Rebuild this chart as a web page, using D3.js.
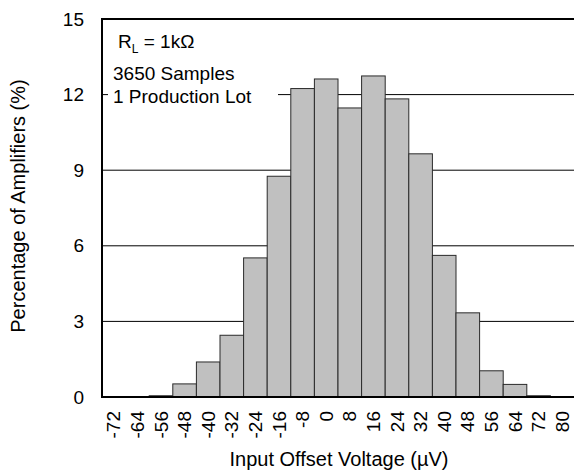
<!DOCTYPE html>
<html>
<head>
<meta charset="utf-8">
<script src="https://cdn.jsdelivr.net/npm/d3@7"></script>
<style>
  body { margin: 0; background: #fff; }
  text { font-family: "Liberation Sans", Arial, sans-serif; fill: #000; }
</style>
</head>
<body>
<svg width="574" height="472"></svg>
<script>
// histogram data
const bins = ['-72', '-64', '-56', '-48', '-40', '-32', '-24', '-16', '-8', '0',
              '8', '16', '24', '32', '40', '48', '56', '64', '72', '80'];
const percent = [0, 0, 0.05, 0.52, 1.39, 2.45, 5.52, 8.76, 12.24, 12.62,
                 11.47, 12.74, 11.83, 9.65, 5.62, 3.34, 1.04, 0.50, 0.05, 0];
const yTicks = [0, 3, 6, 9, 12, 15];
const notes = ['3650 Samples', '1 Production Lot'];

const svg = d3.select('svg');

// plot edges (no right border in the original)
const plotLeft = 102;
const plotRight = 574;
const plotTop = 19;
const plotBottom = 397;

const x = d3.scaleBand()
  .domain(bins)
  .range([plotLeft, plotRight])
  .padding(0);

const y = d3.scaleLinear()
  .domain([0, 15])
  .range([plotBottom, plotTop]);

// gridlines behind the bars
svg.append('g')
  .selectAll('line')
  .data(yTicks.filter(d => d > 0 && d < 15))
  .join('line')
    .attr('x1', plotLeft)
    .attr('x2', plotRight)
    .attr('y1', d => y(d))
    .attr('y2', d => y(d))
    .attr('stroke', '#000')
    .attr('stroke-width', 1);

// bars
svg.append('g')
  .selectAll('rect')
  .data(percent)
  .join('rect')
    .attr('x', (d, i) => x(bins[i]))
    .attr('y', d => y(d))
    .attr('width', x.bandwidth())
    .attr('height', d => y(0) - y(d))
    .attr('fill', '#c0c0c0')
    .attr('stroke', '#2a2a2a')
    .attr('stroke-width', d => d > 0 ? 1 : 0);

// frame: left, top, bottom
const frame = svg.append('g')
  .attr('stroke', '#000')
  .attr('stroke-width', 2);
frame.append('line').attr('x1', plotLeft).attr('x2', plotLeft).attr('y1', plotTop).attr('y2', plotBottom + 1);
frame.append('line').attr('x1', plotLeft - 1).attr('x2', plotRight).attr('y1', plotTop).attr('y2', plotTop);
frame.append('line').attr('x1', plotLeft - 1).attr('x2', plotRight).attr('y1', plotBottom).attr('y2', plotBottom);

// y axis labels
svg.append('g')
  .selectAll('text')
  .data(yTicks)
  .join('text')
    .attr('x', 84)
    .attr('y', d => y(d))
    .attr('dy', '0.35em')
    .attr('text-anchor', 'end')
    .attr('font-size', 19)
    .text(d => d);

// x axis labels, rotated
svg.append('g')
  .selectAll('text')
  .data(bins)
  .join('text')
    .attr('transform', d => `translate(${x(d) + x.bandwidth() / 2}, 411) rotate(-90)`)
    .attr('dy', '0.35em')
    .attr('text-anchor', 'end')
    .attr('font-size', 19)
    .text(d => d);

// axis titles
svg.append('text')
  .attr('x', 339)
  .attr('y', 466)
  .attr('text-anchor', 'middle')
  .attr('font-size', 20)
  .text('Input Offset Voltage (µV)');

svg.append('text')
  .attr('transform', 'translate(25, 206) rotate(-90)')
  .attr('text-anchor', 'middle')
  .attr('font-size', 20)
  .text('Percentage of Amplifiers (%)');

// annotation box
svg.append('rect')
  .attr('x', 108)
  .attr('y', 25)
  .attr('width', 170)
  .attr('height', 85)
  .attr('fill', '#fff');

const rl = svg.append('text')
  .attr('x', 118)
  .attr('y', 48)
  .attr('font-size', 19);
rl.append('tspan').text('R');
rl.append('tspan').attr('font-size', 12).attr('dy', 5).text('L');
rl.append('tspan').attr('dy', -5).text(' = 1kΩ');

svg.append('g')
  .selectAll('text')
  .data(notes)
  .join('text')
    .attr('x', 113)
    .attr('y', (d, i) => 80 + i * 23)
    .attr('font-size', 19)
    .text(d => d);
</script>
</body>
</html>
